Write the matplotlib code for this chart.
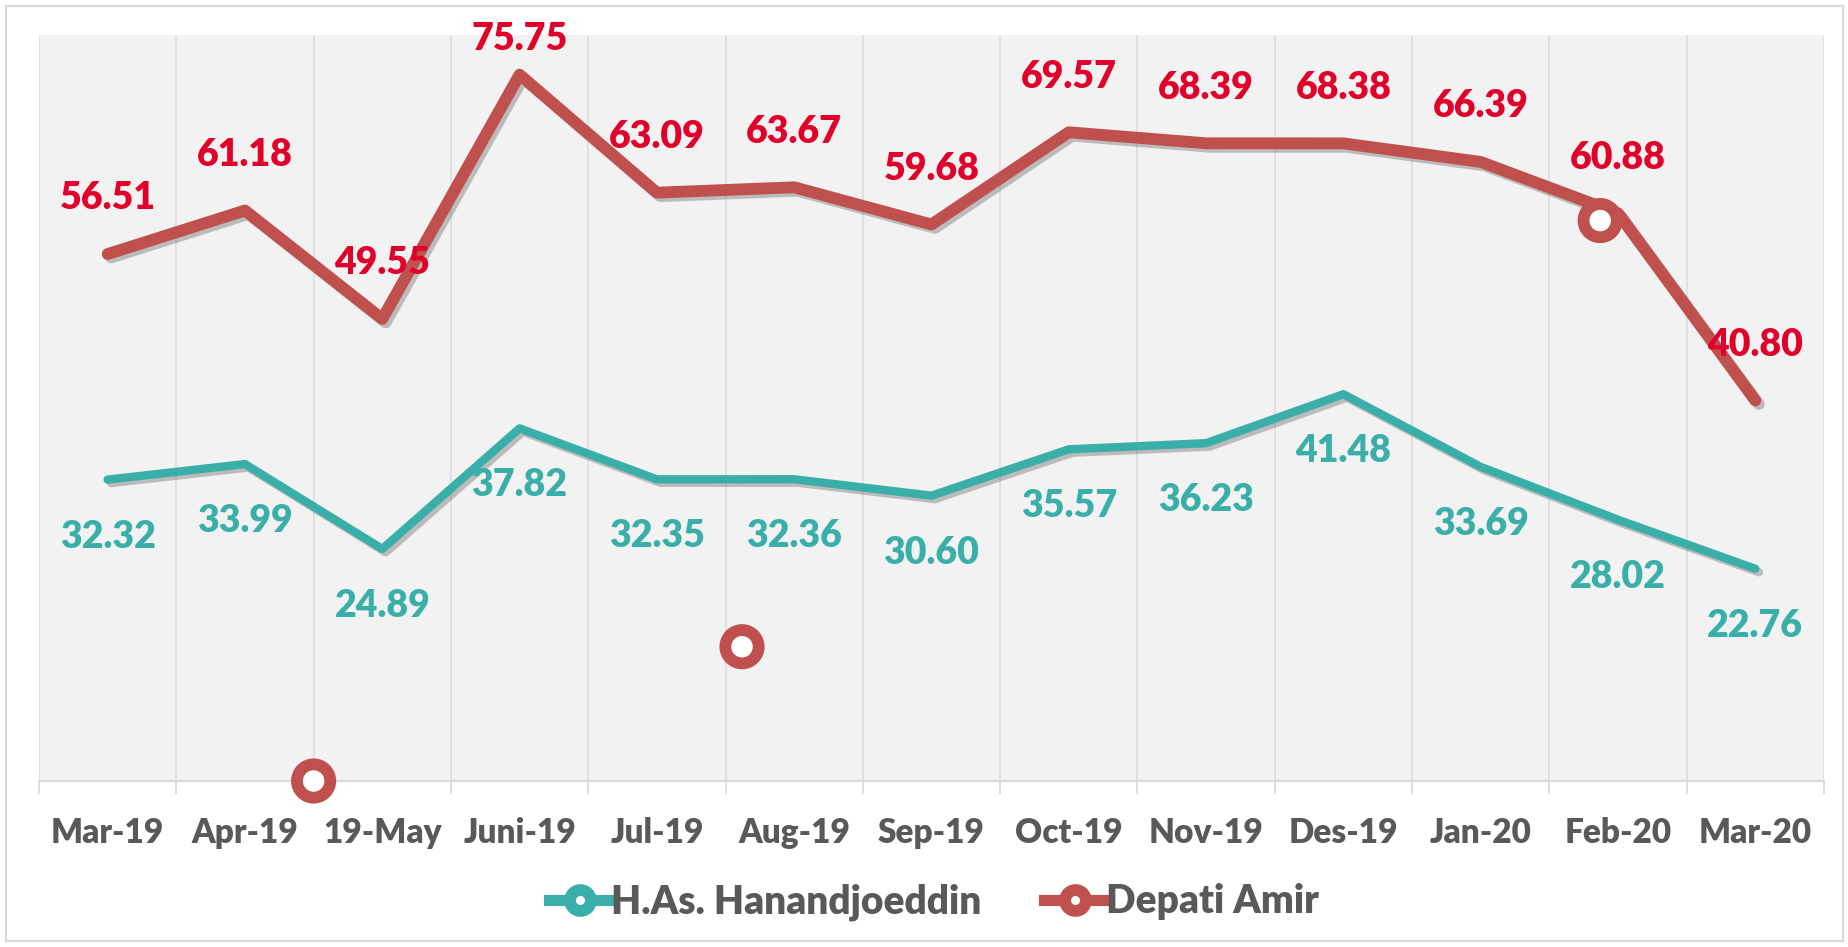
import numpy as np
import matplotlib.pyplot as plt
import matplotlib.patheffects as pe
from matplotlib.lines import Line2D
from matplotlib.patches import Rectangle

months = ['Mar-19', 'Apr-19', '19-May', 'Juni-19', 'Jul-19', 'Aug-19', 'Sep-19',
          'Oct-19', 'Nov-19', 'Des-19', 'Jan-20', 'Feb-20', 'Mar-20']
hanandjoeddin = [32.32, 33.99, 24.89, 37.82, 32.35, 32.36, 30.60, 35.57, 36.23,
                 41.48, 33.69, 28.02, 22.76]
depati_amir = [56.51, 61.18, 49.55, 75.75, 63.09, 63.67, 59.68, 69.57, 68.39,
               68.38, 66.39, 60.88, 40.80]
# stray marker artefacts in the original (category position, value)
stray_x = [1.5, 4.62, 10.87]
stray_y = [0.0, 14.4, 60.1]

teal = '#3AAFA9'
red = '#C0504D'
red_txt = '#E0002A'
gray_txt = '#595959'
FONT = ['Lato', 'DejaVu Sans']
W = 'heavy'

plt.rcParams['font.family'] = FONT
plt.rcParams['font.weight'] = W

fig = plt.figure(figsize=(18.49, 9.47), dpi=100)
fig.patches.append(Rectangle((6 / 1849, 6 / 947), 1 - 12 / 1849, 1 - 12 / 947,
                             transform=fig.transFigure, fill=False,
                             edgecolor='#D9D9D9', lw=1.5))
ax = fig.add_axes([39 / 1849, 1 - 781 / 947, (1824 - 39) / 1849, (781 - 35) / 947])
ax.set_facecolor('#F2F2F2')

x = np.arange(len(months))
shadow = [pe.SimpleLineShadow(offset=(2.5, -2.5), shadow_color='#555555', alpha=0.35),
          pe.Normal()]

ax.plot(x, hanandjoeddin, color=teal, lw=6, solid_capstyle='round',
        solid_joinstyle='round', path_effects=shadow, zorder=3)
ax.plot(x, depati_amir, color=red, lw=8.5, solid_capstyle='round',
        solid_joinstyle='round', path_effects=shadow, zorder=3)
ax.plot(stray_x, stray_y, ls='none', marker='o', ms=24, mew=8.5,
        mfc='white', mec=red, clip_on=False, zorder=4,
        path_effects=[pe.SimplePatchShadow(offset=(2, -2), alpha=0.35), pe.Normal()])

for i, v in enumerate(depati_amir):
    off = 26 if v > 75 else 40
    ax.annotate(f'{v:.2f}', (x[i], v), xytext=(0, off), textcoords='offset points',
                ha='center', va='center', fontsize=27, fontweight=W,
                color=red_txt, zorder=5)
for i, v in enumerate(hanandjoeddin):
    ax.annotate(f'{v:.2f}', (x[i], v), xytext=(0, -41), textcoords='offset points',
                ha='center', va='center', fontsize=27, fontweight=W,
                color=teal, zorder=5)

ax.set_xlim(-0.5, len(months) - 0.5)
ax.set_ylim(0, 80)
ax.set_yticks([])
ax.set_xticks(x)
ax.set_xticklabels(months, fontsize=24, fontweight=W, color=gray_txt)
ax.set_xticks(np.arange(-0.5, len(months)), minor=True)
ax.tick_params(axis='x', which='major', length=0, pad=26)
ax.tick_params(axis='x', which='minor', length=9, width=1.2, color='#D9D9D9')
ax.grid(axis='x', which='minor', color='#DDDDDD', lw=1.2)
for s in ['top', 'left', 'right']:
    ax.spines[s].set_visible(False)
ax.spines['bottom'].set_color('#D9D9D9')
ax.spines['bottom'].set_linewidth(1.5)

handles = [
    Line2D([], [], color=teal, lw=8, marker='o', ms=15, mew=8.5, mfc='white', mec=teal),
    Line2D([], [], color=red, lw=8, marker='o', ms=15, mew=8.5, mfc='white', mec=red),
]
fig.legend(handles, ['H.As. Hanandjoeddin', 'Depati Amir'], loc='center',
           bbox_to_anchor=(0.505, 0.0475), ncol=2, frameon=False, handlelength=1.6,
           handletextpad=0.0, columnspacing=1.6,
           prop={'family': FONT, 'weight': W, 'size': 28},
           labelcolor=gray_txt)

fig.savefig('out.png', dpi=100)
